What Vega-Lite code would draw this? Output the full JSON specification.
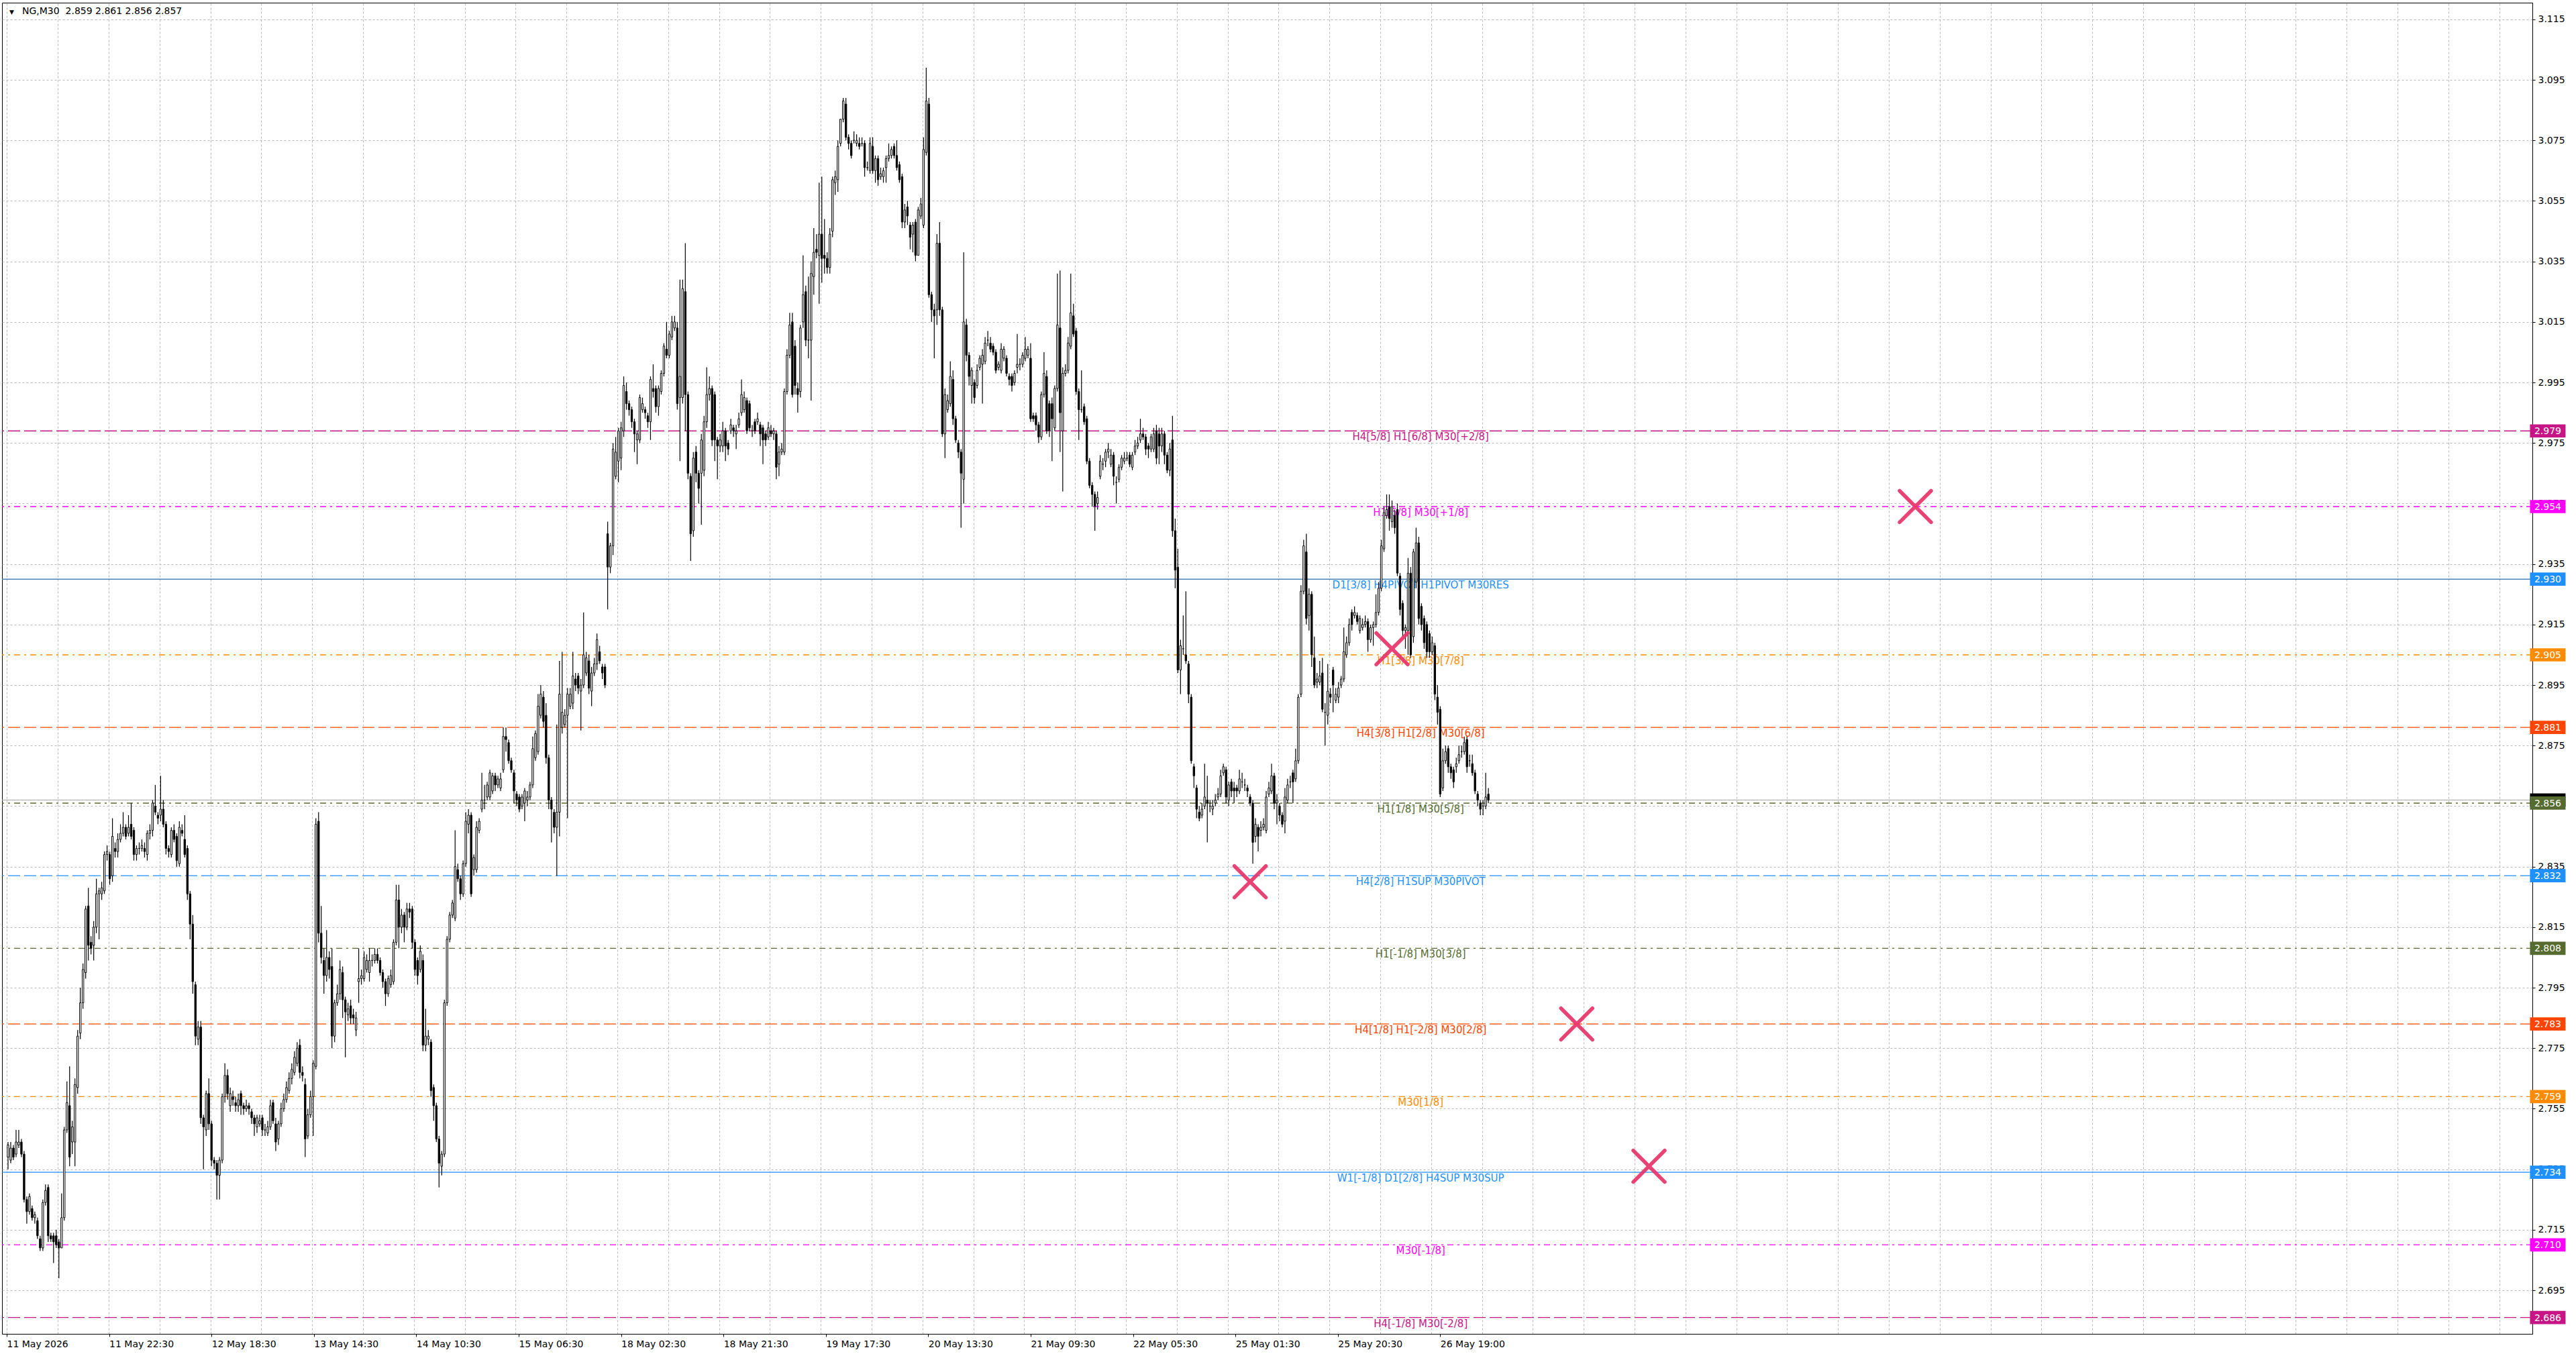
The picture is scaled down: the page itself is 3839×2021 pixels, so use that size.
{
  "$schema": "https://vega.github.io/schema/vega-lite/v6.json",
  "width": 3771,
  "height": 1984,
  "autosize": {"type": "none"},
  "padding": {"left": 3, "top": 4, "right": 65, "bottom": 33},
  "background": "white",
  "datasets": {
    "bars": [
      {"i":0,"o":2.739,"h":2.744,"l":2.735,"c":2.743},{"i":1,"o":2.738,"h":2.744,"l":2.737,"c":2.742},{"i":2,"o":2.742,"h":2.743,"l":2.738,"c":2.739},{"i":3,"o":2.740,"h":2.748,"l":2.739,"c":2.744},
      {"i":4,"o":2.743,"h":2.748,"l":2.742,"c":2.744},{"i":5,"o":2.744,"h":2.745,"l":2.739,"c":2.740},{"i":6,"o":2.740,"h":2.741,"l":2.724,"c":2.725},{"i":7,"o":2.725,"h":2.726,"l":2.717,"c":2.721},
      {"i":8,"o":2.721,"h":2.727,"l":2.720,"c":2.726},{"i":9,"o":2.722,"h":2.723,"l":2.718,"c":2.719},{"i":10,"o":2.719,"h":2.721,"l":2.717,"c":2.720},{"i":11,"o":2.718,"h":2.719,"l":2.712,"c":2.713},
      {"i":12,"o":2.712,"h":2.713,"l":2.708,"c":2.709},{"i":13,"o":2.709,"h":2.725,"l":2.708,"c":2.724},{"i":14,"o":2.724,"h":2.730,"l":2.723,"c":2.728},{"i":15,"o":2.729,"h":2.730,"l":2.711,"c":2.713},
      {"i":16,"o":2.713,"h":2.714,"l":2.711,"c":2.712},{"i":17,"o":2.713,"h":2.714,"l":2.704,"c":2.711},{"i":18,"o":2.713,"h":2.715,"l":2.709,"c":2.710},{"i":19,"o":2.711,"h":2.712,"l":2.699,"c":2.709},
      {"i":20,"o":2.709,"h":2.727,"l":2.709,"c":2.719},{"i":21,"o":2.719,"h":2.749,"l":2.718,"c":2.748},{"i":22,"o":2.748,"h":2.764,"l":2.747,"c":2.757},{"i":23,"o":2.756,"h":2.769,"l":2.736,"c":2.739},
      {"i":24,"o":2.744,"h":2.751,"l":2.740,"c":2.749},{"i":25,"o":2.744,"h":2.765,"l":2.736,"c":2.763},{"i":26,"o":2.762,"h":2.781,"l":2.760,"c":2.779},{"i":27,"o":2.780,"h":2.795,"l":2.778,"c":2.790},
      {"i":28,"o":2.790,"h":2.803,"l":2.788,"c":2.801},{"i":29,"o":2.800,"h":2.822,"l":2.798,"c":2.821},{"i":30,"o":2.822,"h":2.828,"l":2.804,"c":2.809},{"i":31,"o":2.810,"h":2.812,"l":2.806,"c":2.808},
      {"i":32,"o":2.809,"h":2.817,"l":2.804,"c":2.815},{"i":33,"o":2.815,"h":2.831,"l":2.813,"c":2.826},{"i":34,"o":2.826,"h":2.828,"l":2.811,"c":2.827},{"i":35,"o":2.826,"h":2.830,"l":2.824,"c":2.828},
      {"i":36,"o":2.827,"h":2.840,"l":2.826,"c":2.839},{"i":37,"o":2.839,"h":2.842,"l":2.837,"c":2.840},{"i":38,"o":2.839,"h":2.840,"l":2.829,"c":2.831},{"i":39,"o":2.832,"h":2.851,"l":2.830,"c":2.845},
      {"i":40,"o":2.841,"h":2.843,"l":2.838,"c":2.840},{"i":41,"o":2.840,"h":2.846,"l":2.838,"c":2.844},{"i":42,"o":2.844,"h":2.849,"l":2.843,"c":2.846},{"i":43,"o":2.846,"h":2.853,"l":2.845,"c":2.848},
      {"i":44,"o":2.848,"h":2.849,"l":2.844,"c":2.845},{"i":45,"o":2.846,"h":2.852,"l":2.845,"c":2.848},{"i":46,"o":2.849,"h":2.856,"l":2.844,"c":2.845},{"i":47,"o":2.847,"h":2.848,"l":2.837,"c":2.839},
      {"i":48,"o":2.839,"h":2.842,"l":2.837,"c":2.841},{"i":49,"o":2.841,"h":2.843,"l":2.839,"c":2.841},{"i":50,"o":2.841,"h":2.844,"l":2.840,"c":2.842},{"i":51,"o":2.841,"h":2.843,"l":2.838,"c":2.840},
      {"i":52,"o":2.839,"h":2.847,"l":2.837,"c":2.846},{"i":53,"o":2.846,"h":2.849,"l":2.844,"c":2.847},{"i":54,"o":2.847,"h":2.857,"l":2.845,"c":2.856},{"i":55,"o":2.855,"h":2.862,"l":2.852,"c":2.853},
      {"i":56,"o":2.852,"h":2.853,"l":2.849,"c":2.851},{"i":57,"o":2.852,"h":2.865,"l":2.850,"c":2.854},{"i":58,"o":2.854,"h":2.857,"l":2.848,"c":2.849},{"i":59,"o":2.849,"h":2.850,"l":2.839,"c":2.841},
      {"i":60,"o":2.841,"h":2.842,"l":2.838,"c":2.840},{"i":61,"o":2.839,"h":2.848,"l":2.838,"c":2.847},{"i":62,"o":2.847,"h":2.849,"l":2.843,"c":2.844},{"i":63,"o":2.845,"h":2.846,"l":2.835,"c":2.837},
      {"i":64,"o":2.836,"h":2.850,"l":2.835,"c":2.848},{"i":65,"o":2.847,"h":2.849,"l":2.845,"c":2.846},{"i":66,"o":2.844,"h":2.852,"l":2.838,"c":2.839},{"i":67,"o":2.841,"h":2.842,"l":2.824,"c":2.826},
      {"i":68,"o":2.826,"h":2.827,"l":2.811,"c":2.816},{"i":69,"o":2.816,"h":2.819,"l":2.793,"c":2.797},{"i":70,"o":2.796,"h":2.797,"l":2.776,"c":2.779},{"i":71,"o":2.778,"h":2.784,"l":2.776,"c":2.782},
      {"i":72,"o":2.782,"h":2.784,"l":2.750,"c":2.752},{"i":73,"o":2.752,"h":2.753,"l":2.735,"c":2.749},{"i":74,"o":2.748,"h":2.761,"l":2.746,"c":2.760},{"i":75,"o":2.760,"h":2.765,"l":2.748,"c":2.750},
      {"i":76,"o":2.750,"h":2.751,"l":2.736,"c":2.738},{"i":77,"o":2.738,"h":2.739,"l":2.735,"c":2.737},{"i":78,"o":2.737,"h":2.738,"l":2.725,"c":2.733},{"i":79,"o":2.733,"h":2.739,"l":2.725,"c":2.738},
      {"i":80,"o":2.738,"h":2.760,"l":2.737,"c":2.759},{"i":81,"o":2.759,"h":2.770,"l":2.757,"c":2.766},{"i":82,"o":2.766,"h":2.768,"l":2.758,"c":2.760},{"i":83,"o":2.756,"h":2.762,"l":2.754,"c":2.760},
      {"i":84,"o":2.759,"h":2.761,"l":2.756,"c":2.758},{"i":85,"o":2.757,"h":2.759,"l":2.754,"c":2.756},{"i":86,"o":2.756,"h":2.760,"l":2.754,"c":2.758},{"i":87,"o":2.760,"h":2.761,"l":2.753,"c":2.756},
      {"i":88,"o":2.756,"h":2.757,"l":2.753,"c":2.755},{"i":89,"o":2.755,"h":2.758,"l":2.754,"c":2.756},{"i":90,"o":2.756,"h":2.757,"l":2.753,"c":2.755},{"i":91,"o":2.754,"h":2.755,"l":2.750,"c":2.752},
      {"i":92,"o":2.752,"h":2.753,"l":2.746,"c":2.750},{"i":93,"o":2.749,"h":2.753,"l":2.747,"c":2.752},{"i":94,"o":2.750,"h":2.753,"l":2.749,"c":2.751},{"i":95,"o":2.752,"h":2.753,"l":2.746,"c":2.748},
      {"i":96,"o":2.748,"h":2.750,"l":2.746,"c":2.748},{"i":97,"o":2.747,"h":2.751,"l":2.746,"c":2.749},{"i":98,"o":2.749,"h":2.758,"l":2.748,"c":2.756},{"i":99,"o":2.757,"h":2.758,"l":2.750,"c":2.751},
      {"i":100,"o":2.750,"h":2.752,"l":2.741,"c":2.744},{"i":101,"o":2.745,"h":2.751,"l":2.743,"c":2.750},{"i":102,"o":2.750,"h":2.757,"l":2.749,"c":2.755},{"i":103,"o":2.755,"h":2.760,"l":2.754,"c":2.758},
      {"i":104,"o":2.758,"h":2.764,"l":2.757,"c":2.762},{"i":105,"o":2.761,"h":2.767,"l":2.760,"c":2.765},{"i":106,"o":2.765,"h":2.770,"l":2.763,"c":2.768},{"i":107,"o":2.767,"h":2.774,"l":2.766,"c":2.772},
      {"i":108,"o":2.770,"h":2.777,"l":2.769,"c":2.775},{"i":109,"o":2.776,"h":2.778,"l":2.765,"c":2.767},{"i":110,"o":2.767,"h":2.769,"l":2.764,"c":2.766},{"i":111,"o":2.763,"h":2.765,"l":2.739,"c":2.745},
      {"i":112,"o":2.746,"h":2.755,"l":2.745,"c":2.753},{"i":113,"o":2.753,"h":2.761,"l":2.752,"c":2.759},{"i":114,"o":2.759,"h":2.771,"l":2.746,"c":2.770},{"i":115,"o":2.769,"h":2.851,"l":2.768,"c":2.849},
      {"i":116,"o":2.850,"h":2.853,"l":2.810,"c":2.813},{"i":117,"o":2.813,"h":2.822,"l":2.803,"c":2.805},{"i":118,"o":2.804,"h":2.808,"l":2.793,"c":2.799},{"i":119,"o":2.799,"h":2.814,"l":2.797,"c":2.805},
      {"i":120,"o":2.805,"h":2.807,"l":2.798,"c":2.801},{"i":121,"o":2.802,"h":2.808,"l":2.775,"c":2.779},{"i":122,"o":2.779,"h":2.791,"l":2.777,"c":2.790},{"i":123,"o":2.790,"h":2.796,"l":2.789,"c":2.793},
      {"i":124,"o":2.793,"h":2.804,"l":2.791,"c":2.801},{"i":125,"o":2.800,"h":2.802,"l":2.785,"c":2.791},{"i":126,"o":2.791,"h":2.792,"l":2.772,"c":2.787},{"i":127,"o":2.786,"h":2.790,"l":2.784,"c":2.788},
      {"i":128,"o":2.789,"h":2.791,"l":2.783,"c":2.785},{"i":129,"o":2.786,"h":2.788,"l":2.783,"c":2.785},{"i":130,"o":2.781,"h":2.787,"l":2.779,"c":2.785},{"i":131,"o":2.797,"h":2.808,"l":2.790,"c":2.798},
      {"i":132,"o":2.798,"h":2.801,"l":2.796,"c":2.799},{"i":133,"o":2.798,"h":2.807,"l":2.797,"c":2.805},{"i":134,"o":2.801,"h":2.806,"l":2.800,"c":2.804},{"i":135,"o":2.800,"h":2.808,"l":2.797,"c":2.804},
      {"i":136,"o":2.804,"h":2.806,"l":2.802,"c":2.804},{"i":137,"o":2.804,"h":2.808,"l":2.803,"c":2.806},{"i":138,"o":2.806,"h":2.808,"l":2.803,"c":2.804},{"i":139,"o":2.804,"h":2.805,"l":2.799,"c":2.800},
      {"i":140,"o":2.800,"h":2.801,"l":2.795,"c":2.797},{"i":141,"o":2.797,"h":2.798,"l":2.789,"c":2.793},{"i":142,"o":2.793,"h":2.799,"l":2.792,"c":2.798},{"i":143,"o":2.796,"h":2.801,"l":2.795,"c":2.799},
      {"i":144,"o":2.797,"h":2.811,"l":2.796,"c":2.810},{"i":145,"o":2.810,"h":2.829,"l":2.809,"c":2.824},{"i":146,"o":2.824,"h":2.829,"l":2.808,"c":2.815},{"i":147,"o":2.815,"h":2.821,"l":2.813,"c":2.819},
      {"i":148,"o":2.819,"h":2.820,"l":2.810,"c":2.815},{"i":149,"o":2.815,"h":2.823,"l":2.814,"c":2.821},{"i":150,"o":2.821,"h":2.823,"l":2.818,"c":2.820},{"i":151,"o":2.821,"h":2.822,"l":2.808,"c":2.810},
      {"i":152,"o":2.810,"h":2.811,"l":2.799,"c":2.801},{"i":153,"o":2.804,"h":2.805,"l":2.796,"c":2.799},{"i":154,"o":2.801,"h":2.809,"l":2.800,"c":2.807},{"i":155,"o":2.804,"h":2.806,"l":2.774,"c":2.776},
      {"i":156,"o":2.776,"h":2.788,"l":2.774,"c":2.779},{"i":157,"o":2.778,"h":2.781,"l":2.776,"c":2.779},{"i":158,"o":2.777,"h":2.778,"l":2.759,"c":2.761},{"i":159,"o":2.762,"h":2.763,"l":2.751,"c":2.756},
      {"i":160,"o":2.756,"h":2.757,"l":2.744,"c":2.745},{"i":161,"o":2.745,"h":2.746,"l":2.729,"c":2.737},{"i":162,"o":2.736,"h":2.741,"l":2.733,"c":2.740},{"i":163,"o":2.740,"h":2.791,"l":2.739,"c":2.790},
      {"i":164,"o":2.790,"h":2.812,"l":2.789,"c":2.811},{"i":165,"o":2.811,"h":2.820,"l":2.810,"c":2.819},{"i":166,"o":2.819,"h":2.824,"l":2.818,"c":2.823},{"i":167,"o":2.818,"h":2.847,"l":2.817,"c":2.835},
      {"i":168,"o":2.834,"h":2.836,"l":2.830,"c":2.831},{"i":169,"o":2.831,"h":2.832,"l":2.824,"c":2.826},{"i":170,"o":2.826,"h":2.837,"l":2.825,"c":2.836},{"i":171,"o":2.836,"h":2.853,"l":2.835,"c":2.850},
      {"i":172,"o":2.849,"h":2.854,"l":2.846,"c":2.852},{"i":173,"o":2.852,"h":2.853,"l":2.825,"c":2.826},{"i":174,"o":2.834,"h":2.839,"l":2.832,"c":2.838},{"i":175,"o":2.834,"h":2.850,"l":2.833,"c":2.848},
      {"i":176,"o":2.847,"h":2.851,"l":2.846,"c":2.850},{"i":177,"o":2.854,"h":2.866,"l":2.853,"c":2.857},{"i":178,"o":2.857,"h":2.862,"l":2.854,"c":2.857},{"i":179,"o":2.858,"h":2.863,"l":2.857,"c":2.862},
      {"i":180,"o":2.858,"h":2.867,"l":2.857,"c":2.866},{"i":181,"o":2.860,"h":2.866,"l":2.859,"c":2.865},{"i":182,"o":2.865,"h":2.866,"l":2.860,"c":2.862},{"i":183,"o":2.862,"h":2.865,"l":2.861,"c":2.864},
      {"i":184,"o":2.861,"h":2.866,"l":2.860,"c":2.864},{"i":185,"o":2.867,"h":2.881,"l":2.866,"c":2.878},{"i":186,"o":2.878,"h":2.881,"l":2.873,"c":2.877},{"i":187,"o":2.876,"h":2.877,"l":2.869,"c":2.870},
      {"i":188,"o":2.870,"h":2.871,"l":2.866,"c":2.867},{"i":189,"o":2.866,"h":2.867,"l":2.856,"c":2.860},{"i":190,"o":2.859,"h":2.860,"l":2.855,"c":2.857},{"i":191,"o":2.858,"h":2.859,"l":2.853,"c":2.854},
      {"i":192,"o":2.855,"h":2.859,"l":2.854,"c":2.858},{"i":193,"o":2.856,"h":2.861,"l":2.850,"c":2.860},{"i":194,"o":2.857,"h":2.860,"l":2.855,"c":2.858},{"i":195,"o":2.858,"h":2.863,"l":2.857,"c":2.862},
      {"i":196,"o":2.862,"h":2.878,"l":2.861,"c":2.874},{"i":197,"o":2.871,"h":2.880,"l":2.870,"c":2.879},{"i":198,"o":2.873,"h":2.892,"l":2.872,"c":2.888},{"i":199,"o":2.885,"h":2.895,"l":2.884,"c":2.892},
      {"i":200,"o":2.891,"h":2.893,"l":2.881,"c":2.883},{"i":201,"o":2.885,"h":2.889,"l":2.869,"c":2.871},{"i":202,"o":2.871,"h":2.872,"l":2.854,"c":2.857},{"i":203,"o":2.857,"h":2.858,"l":2.843,"c":2.854},
      {"i":204,"o":2.853,"h":2.854,"l":2.846,"c":2.848},{"i":205,"o":2.848,"h":2.882,"l":2.832,"c":2.853},{"i":206,"o":2.853,"h":2.903,"l":2.845,"c":2.892},{"i":207,"o":2.881,"h":2.906,"l":2.879,"c":2.886},
      {"i":208,"o":2.882,"h":2.887,"l":2.881,"c":2.885},{"i":209,"o":2.885,"h":2.894,"l":2.851,"c":2.892},{"i":210,"o":2.888,"h":2.894,"l":2.887,"c":2.892},{"i":211,"o":2.889,"h":2.906,"l":2.887,"c":2.898},
      {"i":212,"o":2.897,"h":2.899,"l":2.893,"c":2.895},{"i":213,"o":2.898,"h":2.899,"l":2.892,"c":2.894},{"i":214,"o":2.893,"h":2.897,"l":2.880,"c":2.895},{"i":215,"o":2.895,"h":2.919,"l":2.894,"c":2.905},
      {"i":216,"o":2.899,"h":2.906,"l":2.898,"c":2.904},{"i":217,"o":2.903,"h":2.905,"l":2.892,"c":2.894},{"i":218,"o":2.893,"h":2.901,"l":2.888,"c":2.899},{"i":219,"o":2.899,"h":2.904,"l":2.898,"c":2.902},
      {"i":220,"o":2.902,"h":2.912,"l":2.900,"c":2.910},{"i":221,"o":2.906,"h":2.908,"l":2.902,"c":2.903},{"i":222,"o":2.901,"h":2.902,"l":2.897,"c":2.899},{"i":223,"o":2.901,"h":2.902,"l":2.894,"c":2.895},
      {"i":224,"o":2.945,"h":2.949,"l":2.920,"c":2.934},{"i":225,"o":2.934,"h":2.942,"l":2.932,"c":2.941},{"i":226,"o":2.941,"h":2.975,"l":2.938,"c":2.973},{"i":227,"o":2.964,"h":2.977,"l":2.963,"c":2.972},
      {"i":228,"o":2.969,"h":2.980,"l":2.962,"c":2.979},{"i":229,"o":2.970,"h":2.982,"l":2.966,"c":2.980},{"i":230,"o":2.979,"h":2.997,"l":2.977,"c":2.994},{"i":231,"o":2.992,"h":2.995,"l":2.986,"c":2.988},
      {"i":232,"o":2.988,"h":2.989,"l":2.984,"c":2.986},{"i":233,"o":2.986,"h":2.987,"l":2.980,"c":2.982},{"i":234,"o":2.982,"h":2.983,"l":2.972,"c":2.978},{"i":235,"o":2.976,"h":2.979,"l":2.968,"c":2.978},
      {"i":236,"o":2.976,"h":2.991,"l":2.975,"c":2.990},{"i":237,"o":2.986,"h":2.990,"l":2.985,"c":2.988},{"i":238,"o":2.986,"h":2.987,"l":2.983,"c":2.985},{"i":239,"o":2.984,"h":2.985,"l":2.980,"c":2.982},
      {"i":240,"o":2.982,"h":2.997,"l":2.976,"c":2.996},{"i":241,"o":2.993,"h":3.001,"l":2.990,"c":2.992},{"i":242,"o":2.993,"h":2.994,"l":2.985,"c":2.987},{"i":243,"o":2.987,"h":2.994,"l":2.984,"c":2.993},
      {"i":244,"o":2.992,"h":2.999,"l":2.991,"c":2.998},{"i":245,"o":2.998,"h":3.008,"l":2.997,"c":3.007},{"i":246,"o":3.006,"h":3.015,"l":3.003,"c":3.004},{"i":247,"o":3.004,"h":3.012,"l":3.003,"c":3.011},
      {"i":248,"o":3.010,"h":3.017,"l":3.009,"c":3.015},{"i":249,"o":3.013,"h":3.017,"l":3.012,"c":3.015},{"i":250,"o":3.013,"h":3.015,"l":2.986,"c":2.988},{"i":251,"o":2.990,"h":3.029,"l":2.969,"c":2.997},
      {"i":252,"o":2.990,"h":3.029,"l":2.988,"c":3.026},{"i":253,"o":3.025,"h":3.041,"l":2.979,"c":2.991},{"i":254,"o":2.991,"h":2.992,"l":2.963,"c":2.965},{"i":255,"o":2.964,"h":2.965,"l":2.936,"c":2.945},
      {"i":256,"o":2.946,"h":2.972,"l":2.944,"c":2.970},{"i":257,"o":2.972,"h":2.974,"l":2.962,"c":2.965},{"i":258,"o":2.965,"h":2.966,"l":2.955,"c":2.960},{"i":259,"o":2.965,"h":2.978,"l":2.948,"c":2.976},
      {"i":260,"o":2.966,"h":2.984,"l":2.964,"c":2.982},{"i":261,"o":2.982,"h":3.000,"l":2.980,"c":2.991},{"i":262,"o":2.991,"h":2.997,"l":2.989,"c":2.993},{"i":263,"o":2.993,"h":2.994,"l":2.974,"c":2.976},
      {"i":264,"o":2.991,"h":2.992,"l":2.969,"c":2.976},{"i":265,"o":2.976,"h":2.977,"l":2.963,"c":2.974},{"i":266,"o":2.974,"h":2.978,"l":2.972,"c":2.976},{"i":267,"o":2.974,"h":2.982,"l":2.972,"c":2.979},
      {"i":268,"o":2.979,"h":2.980,"l":2.969,"c":2.974},{"i":269,"o":2.975,"h":2.976,"l":2.971,"c":2.973},{"i":270,"o":2.979,"h":2.983,"l":2.978,"c":2.981},{"i":271,"o":2.980,"h":2.981,"l":2.977,"c":2.979},
      {"i":272,"o":2.978,"h":2.981,"l":2.973,"c":2.979},{"i":273,"o":2.981,"h":2.985,"l":2.980,"c":2.983},{"i":274,"o":2.985,"h":2.996,"l":2.984,"c":2.991},{"i":275,"o":2.986,"h":2.992,"l":2.985,"c":2.990},
      {"i":276,"o":2.989,"h":2.990,"l":2.978,"c":2.979},{"i":277,"o":2.988,"h":2.989,"l":2.979,"c":2.980},{"i":278,"o":2.979,"h":2.981,"l":2.977,"c":2.979},{"i":279,"o":2.982,"h":2.983,"l":2.978,"c":2.979},
      {"i":280,"o":2.982,"h":2.985,"l":2.981,"c":2.983},{"i":281,"o":2.981,"h":2.982,"l":2.974,"c":2.978},{"i":282,"o":2.980,"h":2.981,"l":2.968,"c":2.976},{"i":283,"o":2.978,"h":2.979,"l":2.974,"c":2.976},
      {"i":284,"o":2.977,"h":2.982,"l":2.976,"c":2.980},{"i":285,"o":2.979,"h":2.981,"l":2.977,"c":2.978},{"i":286,"o":2.978,"h":2.980,"l":2.976,"c":2.979},{"i":287,"o":2.978,"h":2.979,"l":2.963,"c":2.967},
      {"i":288,"o":2.968,"h":2.974,"l":2.964,"c":2.972},{"i":289,"o":2.972,"h":2.975,"l":2.971,"c":2.973},{"i":290,"o":2.972,"h":2.993,"l":2.971,"c":2.992},{"i":291,"o":2.992,"h":3.006,"l":2.991,"c":3.004},
      {"i":292,"o":3.004,"h":3.018,"l":3.003,"c":3.014},{"i":293,"o":3.015,"h":3.018,"l":2.990,"c":2.991},{"i":294,"o":3.007,"h":3.009,"l":2.991,"c":2.994},{"i":295,"o":2.993,"h":2.995,"l":2.985,"c":2.991},
      {"i":296,"o":2.992,"h":3.014,"l":2.990,"c":3.013},{"i":297,"o":3.015,"h":3.037,"l":3.013,"c":3.024},{"i":298,"o":3.025,"h":3.027,"l":3.007,"c":3.009},{"i":299,"o":3.009,"h":3.030,"l":3.003,"c":3.009},
      {"i":300,"o":3.009,"h":3.035,"l":2.989,"c":3.031},{"i":301,"o":3.030,"h":3.046,"l":3.024,"c":3.038},{"i":302,"o":3.039,"h":3.044,"l":3.036,"c":3.038},{"i":303,"o":3.037,"h":3.061,"l":3.021,"c":3.044},
      {"i":304,"o":3.044,"h":3.063,"l":3.028,"c":3.036},{"i":305,"o":3.037,"h":3.049,"l":3.031,"c":3.036},{"i":306,"o":3.036,"h":3.038,"l":3.031,"c":3.033},{"i":307,"o":3.033,"h":3.046,"l":3.031,"c":3.044},
      {"i":308,"o":3.045,"h":3.063,"l":3.043,"c":3.062},{"i":309,"o":3.061,"h":3.065,"l":3.057,"c":3.063},{"i":310,"o":3.062,"h":3.075,"l":3.058,"c":3.073},{"i":311,"o":3.074,"h":3.082,"l":3.073,"c":3.082},
      {"i":312,"o":3.082,"h":3.089,"l":3.081,"c":3.088},{"i":313,"o":3.087,"h":3.089,"l":3.075,"c":3.076},{"i":314,"o":3.076,"h":3.077,"l":3.072,"c":3.074},{"i":315,"o":3.074,"h":3.075,"l":3.069,"c":3.070},
      {"i":316,"o":3.075,"h":3.078,"l":3.074,"c":3.075},{"i":317,"o":3.074,"h":3.077,"l":3.073,"c":3.075},{"i":318,"o":3.074,"h":3.076,"l":3.072,"c":3.073},{"i":319,"o":3.074,"h":3.076,"l":3.073,"c":3.074},
      {"i":320,"o":3.074,"h":3.075,"l":3.063,"c":3.066},{"i":321,"o":3.066,"h":3.068,"l":3.065,"c":3.066},{"i":322,"o":3.065,"h":3.076,"l":3.064,"c":3.074},{"i":323,"o":3.073,"h":3.076,"l":3.064,"c":3.065},
      {"i":324,"o":3.065,"h":3.070,"l":3.061,"c":3.069},{"i":325,"o":3.069,"h":3.070,"l":3.060,"c":3.062},{"i":326,"o":3.063,"h":3.066,"l":3.062,"c":3.064},{"i":327,"o":3.063,"h":3.066,"l":3.061,"c":3.065},
      {"i":328,"o":3.066,"h":3.070,"l":3.061,"c":3.069},{"i":329,"o":3.069,"h":3.074,"l":3.068,"c":3.070},{"i":330,"o":3.070,"h":3.073,"l":3.069,"c":3.072},{"i":331,"o":3.073,"h":3.074,"l":3.069,"c":3.070},
      {"i":332,"o":3.070,"h":3.075,"l":3.065,"c":3.066},{"i":333,"o":3.067,"h":3.068,"l":3.061,"c":3.062},{"i":334,"o":3.063,"h":3.064,"l":3.046,"c":3.048},{"i":335,"o":3.048,"h":3.054,"l":3.046,"c":3.052},
      {"i":336,"o":3.053,"h":3.055,"l":3.047,"c":3.050},{"i":337,"o":3.047,"h":3.048,"l":3.039,"c":3.043},{"i":338,"o":3.044,"h":3.048,"l":3.038,"c":3.047},{"i":339,"o":3.048,"h":3.049,"l":3.035,"c":3.037},
      {"i":340,"o":3.037,"h":3.053,"l":3.037,"c":3.052},{"i":341,"o":3.050,"h":3.056,"l":3.049,"c":3.054},{"i":342,"o":3.047,"h":3.076,"l":3.046,"c":3.072},{"i":343,"o":3.071,"h":3.099,"l":3.070,"c":3.088},
      {"i":344,"o":3.087,"h":3.089,"l":3.023,"c":3.024},{"i":345,"o":3.024,"h":3.025,"l":3.015,"c":3.019},{"i":346,"o":3.019,"h":3.021,"l":3.003,"c":3.017},{"i":347,"o":3.019,"h":3.044,"l":3.014,"c":3.041},
      {"i":348,"o":3.041,"h":3.048,"l":3.017,"c":3.019},{"i":349,"o":3.019,"h":3.020,"l":2.977,"c":2.978},{"i":350,"o":2.978,"h":2.993,"l":2.970,"c":2.991},{"i":351,"o":2.986,"h":2.991,"l":2.985,"c":2.989},
      {"i":352,"o":2.988,"h":3.002,"l":2.987,"c":2.997},{"i":353,"o":2.996,"h":2.999,"l":2.981,"c":2.983},{"i":354,"o":2.983,"h":2.984,"l":2.975,"c":2.976},{"i":355,"o":2.975,"h":2.976,"l":2.970,"c":2.972},
      {"i":356,"o":2.972,"h":2.973,"l":2.947,"c":2.965},{"i":357,"o":2.963,"h":3.038,"l":2.955,"c":3.015},{"i":358,"o":3.014,"h":3.016,"l":3.002,"c":3.004},{"i":359,"o":3.004,"h":3.005,"l":2.994,"c":2.997},
      {"i":360,"o":2.994,"h":3.000,"l":2.988,"c":2.999},{"i":361,"o":2.995,"h":2.996,"l":2.988,"c":2.990},{"i":362,"o":2.994,"h":3.001,"l":2.993,"c":2.999},{"i":363,"o":3.000,"h":3.004,"l":2.999,"c":3.003},
      {"i":364,"o":3.001,"h":3.006,"l":2.988,"c":3.004},{"i":365,"o":3.002,"h":3.010,"l":3.001,"c":3.008},{"i":366,"o":3.009,"h":3.012,"l":3.007,"c":3.009},{"i":367,"o":3.008,"h":3.010,"l":3.005,"c":3.006},
      {"i":368,"o":3.007,"h":3.008,"l":3.004,"c":3.005},{"i":369,"o":3.005,"h":3.006,"l":2.998,"c":2.999},{"i":370,"o":3.000,"h":3.002,"l":2.999,"c":3.001},{"i":371,"o":2.999,"h":3.008,"l":2.998,"c":3.006},
      {"i":372,"o":3.003,"h":3.007,"l":3.002,"c":3.006},{"i":373,"o":3.003,"h":3.004,"l":2.997,"c":2.998},{"i":374,"o":2.997,"h":2.998,"l":2.994,"c":2.996},{"i":375,"o":2.997,"h":2.998,"l":2.992,"c":2.994},
      {"i":376,"o":2.995,"h":2.999,"l":2.994,"c":2.998},{"i":377,"o":3.000,"h":3.011,"l":2.998,"c":3.001},{"i":378,"o":3.001,"h":3.003,"l":2.999,"c":3.001},{"i":379,"o":3.001,"h":3.005,"l":3.000,"c":3.004},
      {"i":380,"o":3.003,"h":3.010,"l":3.002,"c":3.006},{"i":381,"o":3.004,"h":3.007,"l":3.003,"c":3.006},{"i":382,"o":3.003,"h":3.008,"l":2.982,"c":2.983},{"i":383,"o":2.984,"h":2.985,"l":2.982,"c":2.983},
      {"i":384,"o":2.984,"h":2.985,"l":2.979,"c":2.981},{"i":385,"o":2.981,"h":2.982,"l":2.975,"c":2.977},{"i":386,"o":2.977,"h":2.992,"l":2.976,"c":2.991},{"i":387,"o":2.991,"h":3.005,"l":2.990,"c":2.998},
      {"i":388,"o":2.997,"h":2.999,"l":2.978,"c":2.979},{"i":389,"o":2.988,"h":2.989,"l":2.977,"c":2.979},{"i":390,"o":2.988,"h":2.990,"l":2.969,"c":2.983},{"i":391,"o":2.980,"h":2.994,"l":2.979,"c":2.993},
      {"i":392,"o":2.993,"h":3.031,"l":2.992,"c":3.014},{"i":393,"o":3.013,"h":3.032,"l":2.972,"c":2.985},{"i":394,"o":2.979,"h":3.000,"l":2.959,"c":2.998},{"i":395,"o":2.998,"h":3.001,"l":2.997,"c":2.999},
      {"i":396,"o":2.999,"h":3.010,"l":2.998,"c":3.008},{"i":397,"o":3.007,"h":3.031,"l":3.006,"c":3.018},{"i":398,"o":3.017,"h":3.021,"l":3.010,"c":3.011},{"i":399,"o":3.012,"h":3.013,"l":2.991,"c":2.992},
      {"i":400,"o":2.992,"h":2.993,"l":2.976,"c":2.986},{"i":401,"o":2.986,"h":2.999,"l":2.985,"c":2.986},{"i":402,"o":2.987,"h":2.988,"l":2.981,"c":2.982},{"i":403,"o":2.983,"h":2.984,"l":2.968,"c":2.969},
      {"i":404,"o":2.969,"h":2.970,"l":2.960,"c":2.961},{"i":405,"o":2.961,"h":2.962,"l":2.954,"c":2.958},{"i":406,"o":2.958,"h":2.959,"l":2.946,"c":2.954},{"i":407,"o":2.955,"h":2.959,"l":2.953,"c":2.957},
      {"i":408,"o":2.964,"h":2.971,"l":2.963,"c":2.969},{"i":409,"o":2.968,"h":2.970,"l":2.966,"c":2.968},{"i":410,"o":2.969,"h":2.973,"l":2.967,"c":2.972},{"i":411,"o":2.972,"h":2.975,"l":2.970,"c":2.973},
      {"i":412,"o":2.968,"h":2.973,"l":2.967,"c":2.971},{"i":413,"o":2.971,"h":2.972,"l":2.961,"c":2.964},{"i":414,"o":2.962,"h":2.964,"l":2.955,"c":2.962},{"i":415,"o":2.963,"h":2.968,"l":2.962,"c":2.967},
      {"i":416,"o":2.967,"h":2.971,"l":2.966,"c":2.970},{"i":417,"o":2.969,"h":2.972,"l":2.968,"c":2.970},{"i":418,"o":2.970,"h":2.972,"l":2.969,"c":2.970},{"i":419,"o":2.971,"h":2.972,"l":2.967,"c":2.968},
      {"i":420,"o":2.967,"h":2.972,"l":2.966,"c":2.971},{"i":421,"o":2.972,"h":2.976,"l":2.971,"c":2.974},{"i":422,"o":2.974,"h":2.977,"l":2.973,"c":2.975},{"i":423,"o":2.976,"h":2.983,"l":2.975,"c":2.978},
      {"i":424,"o":2.978,"h":2.980,"l":2.976,"c":2.977},{"i":425,"o":2.977,"h":2.978,"l":2.971,"c":2.973},{"i":426,"o":2.974,"h":2.975,"l":2.970,"c":2.973},{"i":427,"o":2.973,"h":2.978,"l":2.972,"c":2.977},
      {"i":428,"o":2.973,"h":2.980,"l":2.972,"c":2.978},{"i":429,"o":2.979,"h":2.981,"l":2.968,"c":2.970},{"i":430,"o":2.978,"h":2.980,"l":2.968,"c":2.974},{"i":431,"o":2.974,"h":2.980,"l":2.972,"c":2.978},
      {"i":432,"o":2.978,"h":2.979,"l":2.968,"c":2.971},{"i":433,"o":2.971,"h":2.972,"l":2.965,"c":2.966},{"i":434,"o":2.966,"h":2.975,"l":2.964,"c":2.973},{"i":435,"o":2.976,"h":2.984,"l":2.944,"c":2.946},
      {"i":436,"o":2.946,"h":2.950,"l":2.927,"c":2.933},{"i":437,"o":2.934,"h":2.940,"l":2.899,"c":2.900},{"i":438,"o":2.900,"h":2.910,"l":2.892,"c":2.908},{"i":439,"o":2.907,"h":2.918,"l":2.905,"c":2.907},
      {"i":440,"o":2.905,"h":2.926,"l":2.902,"c":2.903},{"i":441,"o":2.902,"h":2.903,"l":2.889,"c":2.892},{"i":442,"o":2.891,"h":2.892,"l":2.869,"c":2.870},{"i":443,"o":2.868,"h":2.869,"l":2.861,"c":2.865},
      {"i":444,"o":2.861,"h":2.862,"l":2.851,"c":2.854},{"i":445,"o":2.853,"h":2.855,"l":2.850,"c":2.851},{"i":446,"o":2.852,"h":2.856,"l":2.851,"c":2.854},{"i":447,"o":2.855,"h":2.869,"l":2.854,"c":2.858},
      {"i":448,"o":2.857,"h":2.865,"l":2.843,"c":2.856},{"i":449,"o":2.855,"h":2.857,"l":2.853,"c":2.855},{"i":450,"o":2.854,"h":2.857,"l":2.852,"c":2.855},{"i":451,"o":2.856,"h":2.859,"l":2.855,"c":2.857},
      {"i":452,"o":2.858,"h":2.861,"l":2.857,"c":2.859},{"i":453,"o":2.859,"h":2.867,"l":2.858,"c":2.865},{"i":454,"o":2.866,"h":2.869,"l":2.865,"c":2.868},{"i":455,"o":2.867,"h":2.868,"l":2.856,"c":2.858},
      {"i":456,"o":2.857,"h":2.863,"l":2.855,"c":2.862},{"i":457,"o":2.863,"h":2.864,"l":2.858,"c":2.860},{"i":458,"o":2.861,"h":2.863,"l":2.856,"c":2.860},{"i":459,"o":2.861,"h":2.862,"l":2.858,"c":2.860},
      {"i":460,"o":2.860,"h":2.867,"l":2.859,"c":2.864},{"i":461,"o":2.863,"h":2.866,"l":2.861,"c":2.863},{"i":462,"o":2.862,"h":2.864,"l":2.860,"c":2.862},{"i":463,"o":2.861,"h":2.862,"l":2.858,"c":2.860},
      {"i":464,"o":2.858,"h":2.859,"l":2.855,"c":2.856},{"i":465,"o":2.856,"h":2.857,"l":2.836,"c":2.843},{"i":466,"o":2.845,"h":2.851,"l":2.843,"c":2.849},{"i":467,"o":2.848,"h":2.849,"l":2.840,"c":2.845},
      {"i":468,"o":2.847,"h":2.850,"l":2.845,"c":2.848},{"i":469,"o":2.848,"h":2.851,"l":2.847,"c":2.849},{"i":470,"o":2.847,"h":2.860,"l":2.846,"c":2.858},{"i":471,"o":2.859,"h":2.863,"l":2.858,"c":2.861},
      {"i":472,"o":2.860,"h":2.869,"l":2.859,"c":2.865},{"i":473,"o":2.865,"h":2.866,"l":2.854,"c":2.856},{"i":474,"o":2.856,"h":2.859,"l":2.849,"c":2.857},{"i":475,"o":2.855,"h":2.856,"l":2.850,"c":2.852},
      {"i":476,"o":2.852,"h":2.853,"l":2.848,"c":2.849},{"i":477,"o":2.850,"h":2.861,"l":2.846,"c":2.858},{"i":478,"o":2.857,"h":2.864,"l":2.856,"c":2.862},{"i":479,"o":2.863,"h":2.865,"l":2.861,"c":2.863},
      {"i":480,"o":2.866,"h":2.867,"l":2.856,"c":2.863},{"i":481,"o":2.864,"h":2.874,"l":2.863,"c":2.870},{"i":482,"o":2.870,"h":2.892,"l":2.869,"c":2.891},{"i":483,"o":2.892,"h":2.928,"l":2.891,"c":2.926},
      {"i":484,"o":2.926,"h":2.943,"l":2.925,"c":2.941},{"i":485,"o":2.939,"h":2.945,"l":2.915,"c":2.917},{"i":486,"o":2.918,"h":2.927,"l":2.913,"c":2.925},{"i":487,"o":2.925,"h":2.926,"l":2.901,"c":2.905},
      {"i":488,"o":2.904,"h":2.911,"l":2.894,"c":2.895},{"i":489,"o":2.896,"h":2.899,"l":2.894,"c":2.897},{"i":490,"o":2.896,"h":2.903,"l":2.895,"c":2.898},{"i":491,"o":2.899,"h":2.904,"l":2.886,"c":2.887},
      {"i":492,"o":2.886,"h":2.889,"l":2.875,"c":2.886},{"i":493,"o":2.885,"h":2.902,"l":2.882,"c":2.893},{"i":494,"o":2.892,"h":2.894,"l":2.889,"c":2.891},{"i":495,"o":2.900,"h":2.901,"l":2.886,"c":2.895},
      {"i":496,"o":2.890,"h":2.894,"l":2.889,"c":2.892},{"i":497,"o":2.891,"h":2.896,"l":2.889,"c":2.894},{"i":498,"o":2.895,"h":2.898,"l":2.894,"c":2.897},{"i":499,"o":2.897,"h":2.914,"l":2.896,"c":2.906},
      {"i":500,"o":2.905,"h":2.911,"l":2.904,"c":2.909},{"i":501,"o":2.909,"h":2.917,"l":2.908,"c":2.915},{"i":502,"o":2.919,"h":2.920,"l":2.913,"c":2.915},{"i":503,"o":2.918,"h":2.921,"l":2.917,"c":2.919},
      {"i":504,"o":2.918,"h":2.919,"l":2.915,"c":2.916},{"i":505,"o":2.913,"h":2.918,"l":2.912,"c":2.917},{"i":506,"o":2.914,"h":2.917,"l":2.913,"c":2.915},{"i":507,"o":2.915,"h":2.918,"l":2.914,"c":2.916},
      {"i":508,"o":2.916,"h":2.917,"l":2.906,"c":2.910},{"i":509,"o":2.910,"h":2.915,"l":2.909,"c":2.914},{"i":510,"o":2.914,"h":2.916,"l":2.908,"c":2.915},{"i":511,"o":2.915,"h":2.925,"l":2.914,"c":2.919},
      {"i":512,"o":2.919,"h":2.929,"l":2.918,"c":2.927},{"i":513,"o":2.927,"h":2.943,"l":2.926,"c":2.941},{"i":514,"o":2.940,"h":2.954,"l":2.939,"c":2.952},{"i":515,"o":2.951,"h":2.958,"l":2.950,"c":2.953},
      {"i":516,"o":2.954,"h":2.958,"l":2.946,"c":2.950},{"i":517,"o":2.949,"h":2.956,"l":2.947,"c":2.954},{"i":518,"o":2.951,"h":2.953,"l":2.945,"c":2.947},{"i":519,"o":2.953,"h":2.955,"l":2.931,"c":2.932},
      {"i":520,"o":2.931,"h":2.932,"l":2.918,"c":2.920},{"i":521,"o":2.922,"h":2.923,"l":2.911,"c":2.913},{"i":522,"o":2.913,"h":2.915,"l":2.907,"c":2.914},{"i":523,"o":2.913,"h":2.937,"l":2.905,"c":2.932},
      {"i":524,"o":2.932,"h":2.934,"l":2.904,"c":2.905},{"i":525,"o":2.911,"h":2.940,"l":2.909,"c":2.939},{"i":526,"o":2.929,"h":2.947,"l":2.927,"c":2.942},{"i":527,"o":2.942,"h":2.944,"l":2.915,"c":2.917},
      {"i":528,"o":2.921,"h":2.922,"l":2.913,"c":2.915},{"i":529,"o":2.917,"h":2.918,"l":2.907,"c":2.909},{"i":530,"o":2.915,"h":2.916,"l":2.904,"c":2.906},{"i":531,"o":2.912,"h":2.913,"l":2.904,"c":2.906},
      {"i":532,"o":2.906,"h":2.911,"l":2.905,"c":2.909},{"i":533,"o":2.908,"h":2.909,"l":2.890,"c":2.892},{"i":534,"o":2.891,"h":2.895,"l":2.882,"c":2.886},{"i":535,"o":2.887,"h":2.888,"l":2.858,"c":2.859},
      {"i":536,"o":2.861,"h":2.874,"l":2.860,"c":2.870},{"i":537,"o":2.870,"h":2.875,"l":2.869,"c":2.873},{"i":538,"o":2.874,"h":2.875,"l":2.866,"c":2.868},{"i":539,"o":2.868,"h":2.869,"l":2.864,"c":2.866},
      {"i":540,"o":2.867,"h":2.868,"l":2.861,"c":2.863},{"i":541,"o":2.868,"h":2.871,"l":2.866,"c":2.869},{"i":542,"o":2.870,"h":2.875,"l":2.869,"c":2.872},{"i":543,"o":2.873,"h":2.875,"l":2.871,"c":2.873},
      {"i":544,"o":2.873,"h":2.878,"l":2.872,"c":2.876},{"i":545,"o":2.877,"h":2.878,"l":2.866,"c":2.868},{"i":546,"o":2.870,"h":2.872,"l":2.868,"c":2.870},{"i":547,"o":2.869,"h":2.872,"l":2.865,"c":2.866},
      {"i":548,"o":2.866,"h":2.867,"l":2.859,"c":2.860},{"i":549,"o":2.859,"h":2.860,"l":2.855,"c":2.857},{"i":550,"o":2.856,"h":2.857,"l":2.852,"c":2.854},{"i":551,"o":2.855,"h":2.857,"l":2.852,"c":2.855},
      {"i":552,"o":2.855,"h":2.866,"l":2.854,"c":2.858},{"i":553,"o":2.859,"h":2.861,"l":2.856,"c":2.857}
    ],
    "levels": [
      {"p": 2.979, "name": "H4[5/8] H1[6/8] M30[+2/8]"},
      {"p": 2.954, "name": "H1[5/8] M30[+1/8]"},
      {"p": 2.930, "name": "D1[3/8] H4PIVOT H1PIVOT M30RES"},
      {"p": 2.905, "name": "H1[3/8] M30[7/8]"},
      {"p": 2.881, "name": "H4[3/8] H1[2/8] M30[6/8]"},
      {"p": 2.856, "name": "H1[1/8] M30[5/8]"},
      {"p": 2.832, "name": "H4[2/8] H1SUP M30PIVOT"},
      {"p": 2.808, "name": "H1[-1/8] M30[3/8]"},
      {"p": 2.783, "name": "H4[1/8] H1[-2/8] M30[2/8]"},
      {"p": 2.759, "name": "M30[1/8]"},
      {"p": 2.734, "name": "W1[-1/8] D1[2/8] H4SUP M30SUP"},
      {"p": 2.710, "name": "M30[-1/8]"},
      {"p": 2.686, "name": "H4[-1/8] M30[-2/8]"}
    ],
    "crosses": [
      {"i": 464, "p": 2.830},
      {"i": 517, "p": 2.907},
      {"i": 586, "p": 2.783},
      {"i": 613, "p": 2.736},
      {"i": 712.5, "p": 2.954}
    ],
    "last": [{"p": 2.857}]
  },
  "resolve": {"axis": {"x": "independent", "y": "independent"}},
  "layer": [
    {
      "data": {"name": "levels"},
      "mark": {"type": "rule", "strokeWidth": 1.4},
      "encoding": {
        "y": {"field": "p", "type": "quantitative", "scale": {"domain": [2.6806, 3.1205], "nice": false, "zero": false}, "axis": null},
        "stroke": {
          "field": "name", "type": "nominal", "legend": null,
          "scale": {
            "domain": ["H4[5/8] H1[6/8] M30[+2/8]", "H1[5/8] M30[+1/8]", "D1[3/8] H4PIVOT H1PIVOT M30RES", "H1[3/8] M30[7/8]", "H4[3/8] H1[2/8] M30[6/8]", "H1[1/8] M30[5/8]", "H4[2/8] H1SUP M30PIVOT", "H1[-1/8] M30[3/8]", "H4[1/8] H1[-2/8] M30[2/8]", "M30[1/8]", "W1[-1/8] D1[2/8] H4SUP M30SUP", "M30[-1/8]", "H4[-1/8] M30[-2/8]"],
            "range": ["#C71585", "#FF00FF", "#4682B4", "#FF8C00", "#FF4500", "#556B2F", "#1E90FF", "#556B2F", "#FF4500", "#FF8C00", "#1E90FF", "#FF00FF", "#C71585"]
          }
        },
        "strokeDash": {
          "field": "name", "type": "nominal", "legend": null,
          "scale": {
            "domain": ["H4[5/8] H1[6/8] M30[+2/8]", "H1[5/8] M30[+1/8]", "D1[3/8] H4PIVOT H1PIVOT M30RES", "H1[3/8] M30[7/8]", "H4[3/8] H1[2/8] M30[6/8]", "H1[1/8] M30[5/8]", "H4[2/8] H1SUP M30PIVOT", "H1[-1/8] M30[3/8]", "H4[1/8] H1[-2/8] M30[2/8]", "M30[1/8]", "W1[-1/8] D1[2/8] H4SUP M30SUP", "M30[-1/8]", "H4[-1/8] M30[-2/8]"],
            "range": [[18, 6], [9, 6, 3, 6], [1, 0], [9, 6, 3, 6], [18, 6], [9, 6, 3, 6], [18, 6], [9, 6, 3, 6], [18, 6], [9, 6, 3, 6], [1, 0], [9, 6, 3, 6], [18, 6]]
          }
        }
      }
    },
    {
      "data": {"name": "last"},
      "mark": {"type": "rule", "stroke": "#B4B4B4", "strokeWidth": 1.2},
      "encoding": {
        "y": {"field": "p", "type": "quantitative", "scale": {"domain": [2.6806, 3.1205], "nice": false, "zero": false}, "axis": null}
      }
    },
    {
      "data": {"name": "levels"},
      "mark": {"type": "text", "font": "DejaVu Sans", "fontSize": 15, "align": "center", "baseline": "top", "dy": 2},
      "encoding": {
        "x": {"datum": 527.7, "type": "quantitative", "scale": {"domain": [-1, 941.75], "nice": false, "zero": false}, "axis": null},
        "y": {"field": "p", "type": "quantitative", "scale": {"domain": [2.6806, 3.1205], "nice": false, "zero": false}, "axis": null},
        "text": {"field": "name"},
        "fill": {
          "field": "name", "type": "nominal", "legend": null,
          "scale": {
            "domain": ["H4[5/8] H1[6/8] M30[+2/8]", "H1[5/8] M30[+1/8]", "D1[3/8] H4PIVOT H1PIVOT M30RES", "H1[3/8] M30[7/8]", "H4[3/8] H1[2/8] M30[6/8]", "H1[1/8] M30[5/8]", "H4[2/8] H1SUP M30PIVOT", "H1[-1/8] M30[3/8]", "H4[1/8] H1[-2/8] M30[2/8]", "M30[1/8]", "W1[-1/8] D1[2/8] H4SUP M30SUP", "M30[-1/8]", "H4[-1/8] M30[-2/8]"],
            "range": ["#C71585", "#FF00FF", "#1E90FF", "#FF8C00", "#FF4500", "#556B2F", "#1E90FF", "#556B2F", "#FF4500", "#FF8C00", "#1E90FF", "#FF00FF", "#C71585"]
          }
        }
      }
    },
    {
      "data": {"name": "bars"},
      "mark": {"type": "rule", "stroke": "black", "strokeWidth": 1.2},
      "encoding": {
        "x": {
          "field": "i", "type": "quantitative",
          "scale": {"domain": [-1, 941.75], "nice": false, "zero": false},
          "axis": {
            "orient": "top", "title": null, "labels": false, "ticks": false, "domain": false,
            "grid": true, "gridColor": "#B8B8B8", "gridDash": [3, 3], "gridWidth": 1,
            "values": [-0.375, 18.625, 37.625, 56.625, 75.625, 94.625, 113.625, 132.625, 151.625, 170.625, 189.625, 208.625, 227.625, 246.625, 265.625, 284.625, 303.625, 322.625, 341.625, 360.625, 379.625, 398.625, 417.625, 436.625, 455.625, 474.625, 493.625, 512.625, 531.625, 550.625, 569.625, 588.625, 607.625, 626.625, 645.625, 664.625, 683.625, 702.625, 721.625, 740.625, 759.625, 778.625, 797.625, 816.625, 835.625, 854.625, 873.625, 892.625, 911.625, 930.625]
          }
        },
        "y": {
          "field": "l", "type": "quantitative",
          "scale": {"domain": [2.6806, 3.1205], "nice": false, "zero": false},
          "axis": {
            "orient": "right", "title": null, "format": ".3f",
            "values": [2.695, 2.715, 2.735, 2.755, 2.775, 2.795, 2.815, 2.835, 2.855, 2.875, 2.895, 2.915, 2.935, 2.955, 2.975, 2.995, 3.015, 3.035, 3.055, 3.075, 3.095, 3.115],
            "grid": true, "gridColor": "#B8B8B8", "gridDash": [3, 3], "gridWidth": 1,
            "tickSize": 4, "tickColor": "black", "domainColor": "black",
            "labelFont": "DejaVu Sans", "labelFontSize": 14, "labelColor": "black", "labelPadding": 4,
            "labelOverlap": false, "labelFlush": false, "labelBound": false
          }
        },
        "y2": {"field": "h"}
      }
    },
    {
      "data": {"name": "bars"},
      "mark": {"type": "bar", "size": 2.3, "stroke": "black", "strokeWidth": 1},
      "encoding": {
        "x": {
          "field": "i", "type": "quantitative",
          "scale": {"domain": [-1, 941.75], "nice": false, "zero": false},
          "axis": {
            "orient": "bottom", "title": null, "grid": false,
            "values": [-0.5, 37.75, 76, 114.25, 152.5, 190.75, 229, 267.25, 305.5, 343.75, 382, 420.25, 458.5, 496.75, 535],
            "labelExpr": "['11 May 2026','11 May 22:30','12 May 18:30','13 May 14:30','14 May 10:30','15 May 06:30','18 May 02:30','18 May 21:30','19 May 17:30','20 May 13:30','21 May 09:30','22 May 05:30','25 May 01:30','25 May 20:30','26 May 19:00'][round((datum.value + 0.5) / 38.25)]",
            "labelAlign": "left", "labelBaseline": "top", "labelPadding": 4,
            "tickSize": 4, "tickColor": "black", "domainColor": "black",
            "labelFont": "DejaVu Sans", "labelFontSize": 14, "labelColor": "black",
            "labelOverlap": false, "labelFlush": false, "labelBound": false
          }
        },
        "y": {"field": "o", "type": "quantitative", "scale": {"domain": [2.6806, 3.1205], "nice": false, "zero": false}, "axis": null},
        "y2": {"field": "c"},
        "fill": {"condition": {"test": "datum.c < datum.o", "value": "black"}, "value": "white"}
      }
    },
    {
      "data": {"name": "crosses"},
      "mark": {"type": "point", "shape": "M-1,-1L1,1M-1,1L1,-1", "size": 2200, "filled": false, "stroke": "#E8336A", "strokeWidth": 5.5, "strokeCap": "round", "opacity": 0.92},
      "encoding": {
        "x": {"field": "i", "type": "quantitative", "scale": {"domain": [-1, 941.75], "nice": false, "zero": false}, "axis": null},
        "y": {"field": "p", "type": "quantitative", "scale": {"domain": [2.6806, 3.1205], "nice": false, "zero": false}, "axis": null}
      }
    },
    {
      "data": {"name": "last"},
      "mark": {"type": "point", "shape": "M-1,-0.37L1,-0.37L1,0.37L-1,0.37Z", "size": 2809, "filled": true, "fill": "black", "strokeWidth": 0, "opacity": 1},
      "encoding": {
        "x": {"datum": 948.75, "type": "quantitative", "scale": {"domain": [-1, 941.75], "nice": false, "zero": false}, "axis": null},
        "y": {"field": "p", "type": "quantitative", "scale": {"domain": [2.6806, 3.1205], "nice": false, "zero": false}, "axis": null}
      }
    },
    {
      "data": {"name": "levels"},
      "mark": {"type": "point", "shape": "M-1,-0.37L1,-0.37L1,0.37L-1,0.37Z", "size": 2809, "filled": true, "strokeWidth": 0, "opacity": 1},
      "encoding": {
        "x": {"datum": 948.75, "type": "quantitative", "scale": {"domain": [-1, 941.75], "nice": false, "zero": false}, "axis": null},
        "y": {"field": "p", "type": "quantitative", "scale": {"domain": [2.6806, 3.1205], "nice": false, "zero": false}, "axis": null},
        "fill": {"field": "name", "type": "nominal", "legend": null}
      }
    },
    {
      "data": {"name": "levels"},
      "mark": {"type": "text", "font": "DejaVu Sans", "fontSize": 14, "fill": "white", "align": "center", "baseline": "middle", "dy": 1},
      "encoding": {
        "x": {"datum": 948.75, "type": "quantitative", "scale": {"domain": [-1, 941.75], "nice": false, "zero": false}, "axis": null},
        "y": {"field": "p", "type": "quantitative", "scale": {"domain": [2.6806, 3.1205], "nice": false, "zero": false}, "axis": null},
        "text": {"field": "p", "format": ".3f"}
      }
    },
    {
      "data": {"values": [{}]},
      "mark": {"type": "text", "font": "DejaVu Sans", "fontSize": 9, "fill": "black", "align": "left", "baseline": "top", "dx": 6, "dy": 10},
      "encoding": {
        "x": {"datum": -1, "type": "quantitative", "scale": {"domain": [-1, 941.75], "nice": false, "zero": false}, "axis": null},
        "y": {"datum": 3.1205, "type": "quantitative", "scale": {"domain": [2.6806, 3.1205], "nice": false, "zero": false}, "axis": null},
        "text": {"value": "▼"}
      }
    },
    {
      "data": {"values": [{}]},
      "mark": {"type": "text", "font": "DejaVu Sans", "fontSize": 14, "fill": "black", "align": "left", "baseline": "top", "dx": 25, "dy": 6},
      "encoding": {
        "x": {"datum": -1, "type": "quantitative", "scale": {"domain": [-1, 941.75], "nice": false, "zero": false}, "axis": null},
        "y": {"datum": 3.1205, "type": "quantitative", "scale": {"domain": [2.6806, 3.1205], "nice": false, "zero": false}, "axis": null},
        "text": {"value": "NG,M30\u00a0 2.859 2.861 2.856 2.857"}
      }
    }
  ],
  "config": {
    "view": {"stroke": "black", "strokeWidth": 1}
  }
}
